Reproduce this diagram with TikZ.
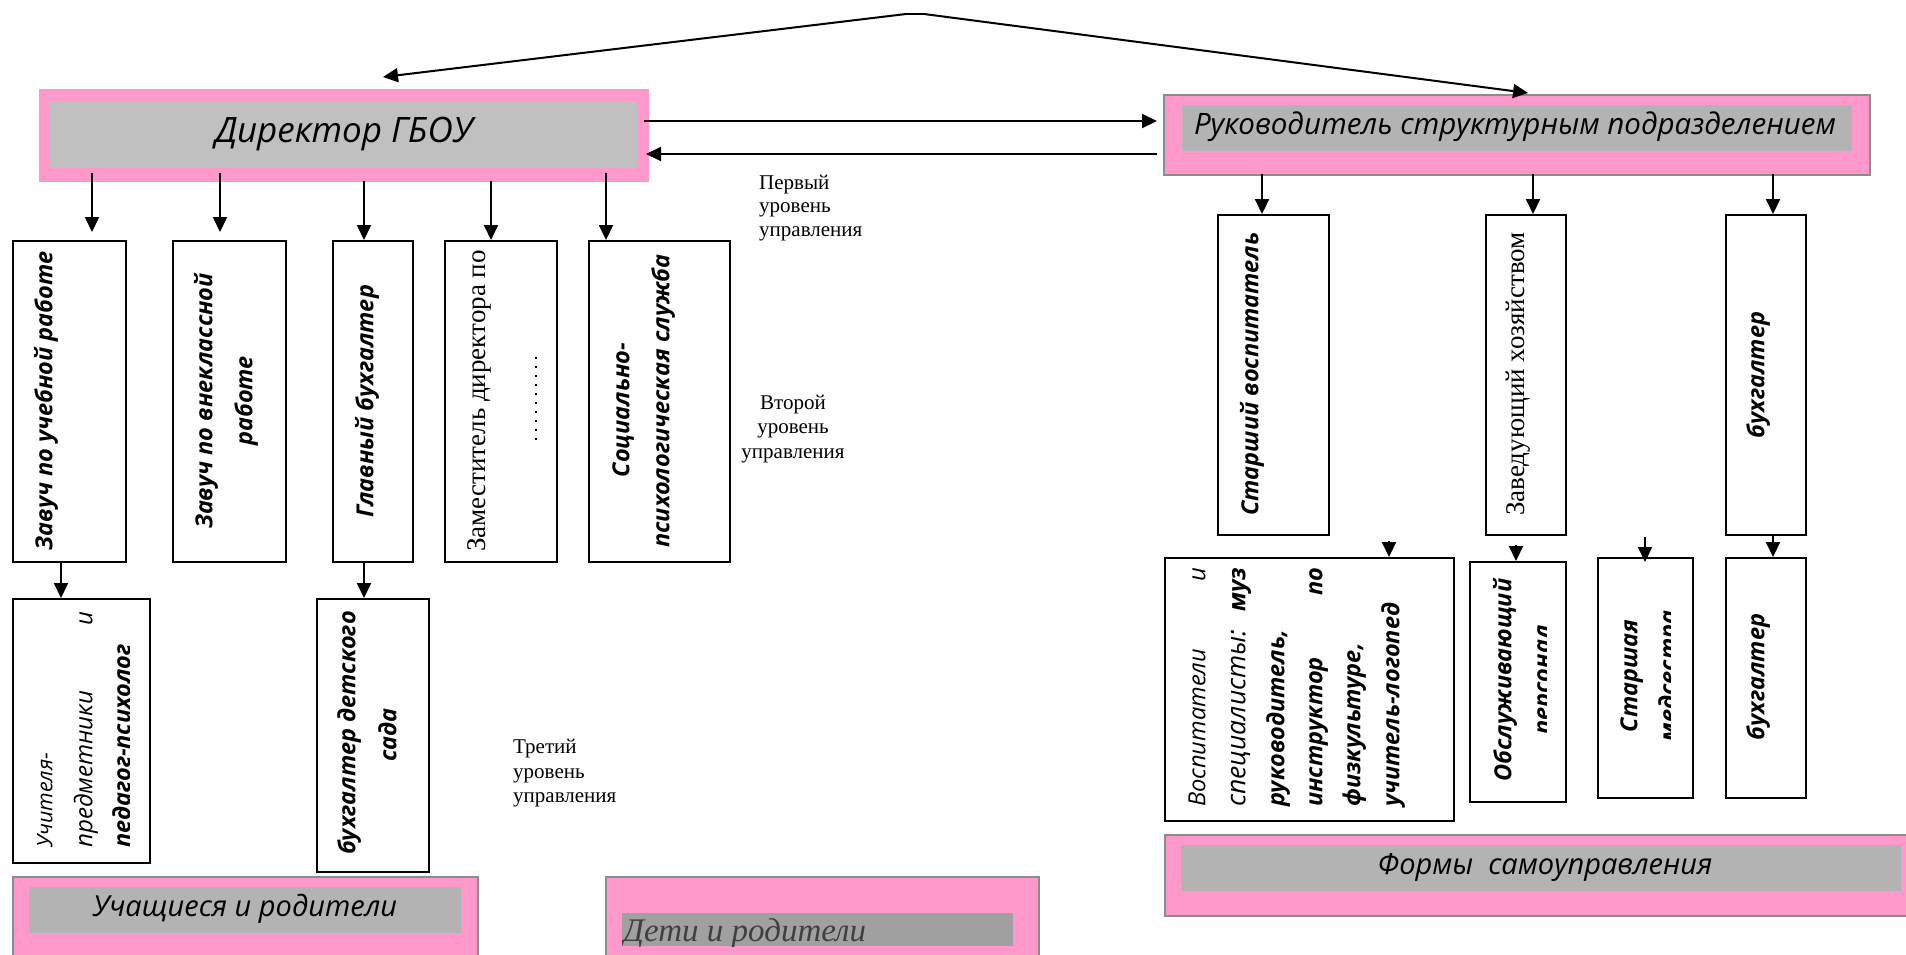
\documentclass[tikz,border=0pt]{standalone}
\usepackage{fontspec}
\setmainfont{Liberation Serif}
\newfontfamily\osans{Open Sans}
\usetikzlibrary{arrows.meta}
\definecolor{pinkw}{HTML}{FF99CC}
\definecolor{grayA}{HTML}{C0C0C0}
\definecolor{grayB}{HTML}{B3B3B3}
\definecolor{grayC}{HTML}{A0A0A0}
\definecolor{frameg}{HTML}{8C8C8C}
\definecolor{dtext}{HTML}{404040}
\newcommand\tBI{\osans\bfseries\itshape\fontsize{23.5}{27}\selectfont}
\newcommand\tI{\osans\itshape\fontsize{24}{28}\selectfont}
\newcommand\tS{\fontsize{27}{31}\selectfont}
\newcommand\tL{\fontsize{21}{25}\selectfont}
\begin{document}
\begin{tikzpicture}[x=1pt,y=-1pt,
  box/.style={draw=black, line width=2pt, inner sep=0pt, anchor=north west},
  pinkbox/.style={draw=frameg, line width=1.5pt, fill=pinkw, inner sep=0pt, anchor=north west},
  graybar/.style={fill=#1, inner sep=0pt, anchor=north west},
  arr/.style={line width=2pt, -{Triangle[length=15pt,width=14pt]}},
  vt/.style={rotate=90, inner sep=0pt, anchor=mid},
  vtl/.style={rotate=90, inner sep=0pt, anchor=mid west},
  lvl/.style={inner sep=0pt, font=\tL},
  htext/.style={inner sep=0pt, font=\osans\itshape\fontsize{#1}{#1}\selectfont},
]
\useasboundingbox (0,0) rectangle (1906,954);
\fill[white] (0,0) rectangle (1906,954);

% ---------- top level boxes ----------
\node[pinkbox, draw=none, minimum width=610pt, minimum height=93pt] (dirO) at (38,88) {};
\node[graybar=grayA, minimum width=587pt, minimum height=67pt] (dirI) at (50,101) {};
\node[htext=35] (dirT) at (344,134) {Директор ГБОУ};

\node[pinkbox, minimum width=706pt, minimum height=80pt] (rukO) at (1163,94) {};
\node[graybar=grayB, minimum width=670pt, minimum height=46pt] (rukI) at (1182,105) {};
\node[htext=29.5] (rukT) at (1515,127) {Руководитель структурным подразделением};

% ---------- apex arrows ----------
\coordinate (apL) at (906,14);
\coordinate (apR) at (924,14);
\coordinate (apLt) at (383,77);
\coordinate (apRt) at (1528,93);
\draw[line width=2pt] (apL) -- (apR);
\draw[arr] (apL) -- (apLt);
\draw[arr] (apR) -- (apRt);

% ---------- horizontal arrows ----------
\coordinate (h1a) at (644,121);
\coordinate (h1b) at (1157,121);
\coordinate (h2a) at (1157,154);
\coordinate (h2b) at (646,154);
\draw[arr] (h1a) -- (h1b);
\draw[arr] (h2a) -- (h2b);

% ---------- second level (left) ----------
\node[box, minimum width=113pt, minimum height=321pt] (B1) at (12,240) {};
\node[box, minimum width=113pt, minimum height=321pt] (B2) at (172,240) {};
\node[box, minimum width=80pt,  minimum height=321pt] (B3) at (332,240) {};
\node[box, minimum width=112pt, minimum height=321pt] (B4) at (444,240) {};
\node[box, minimum width=141pt, minimum height=321pt] (B5) at (588,240) {};

\node[vt, font=\tBI] (t1) at (50,401) {Завуч по учебной работе};
\node[vt, font=\tBI] (t2a) at (210,401) {Завуч по внеклассной};
\node[vt, font=\tBI] (t2b) at (250,401) {работе};
\node[vt, font=\tBI] (t3) at (371,401) {Главный бухгалтер};
\node[vt, font=\tS] (t4) at (483,401) {Заместитель директора по};
\coordinate (d4a) at (536,357);
\coordinate (d4b) at (536,440);
\draw[line width=2pt, dash pattern=on 2pt off 7pt] (d4a) -- (d4b);
\node[vt, font=\tBI] (t5a) at (627,410) {Социально-};
\node[vt, font=\tBI] (t5b) at (667,401) {психологическая служба};

% arrows from director
\coordinate (a1) at (92,173);  \coordinate (a1e) at (92,232);
\coordinate (a2) at (220,173); \coordinate (a2e) at (220,232);
\coordinate (a3) at (364,181); \coordinate (a4) at (491,181); \coordinate (a5) at (606,173);
\draw[arr] (a1) -- (a1e);
\draw[arr] (a2) -- (a2e);
\draw[arr] (a3) -- (a3 |- B3.north);
\draw[arr] (a4) -- (a4 |- B4.north);
\draw[arr] (a5) -- (a5 |- B5.north);

% ---------- third level (left) ----------
\node[box, minimum width=137pt, minimum height=264pt] (T1) at (12,598) {};
\node[box, minimum width=112pt, minimum height=273pt] (T2) at (316,598) {};
\coordinate (b1) at (61,563);
\coordinate (b3) at (364,563);
\draw[arr] (b1) -- (b1 |- T1.north);
\draw[arr] (b3) -- (b3 |- T2.north);

\node[vtl, font=\tI] (u1) at (50,848) {\resizebox{95pt}{!}{Учителя-}};
\node[vtl, font=\tI] (u2) at (90,848) {\makebox[236pt][l]{\resizebox{157pt}{!}{предметники}\hfill и}};
\begin{scope}
  \clip (12,598) rectangle (129.5,862);
  \node[vtl, font=\tBI] (u3) at (128,848) {педагог-психолог};
\end{scope}
\node[vt, font=\tBI] (bd1) at (353,733) {бухгалтер детского};
\node[vt, font=\tBI] (bd2) at (394,735) {сада};

% ---------- level labels ----------
\node[lvl, anchor=base west] (p1) at (759,189) {Первый};
\node[lvl, anchor=base west] (p2) at (759,212) {уровень};
\node[lvl, anchor=base west] (p3) at (759,236) {управления};
\node[lvl, anchor=base] (v1) at (793,409) {Второй};
\node[lvl, anchor=base] (v2) at (793,433) {уровень};
\node[lvl, anchor=base] (v3) at (793,458) {управления};
\node[lvl, anchor=base west] (r1) at (513,753) {Третий};
\node[lvl, anchor=base west] (r2) at (513,778) {уровень};
\node[lvl, anchor=base west] (r3) at (513,802) {управления};

% ---------- bottom left ----------
\node[pinkbox, minimum width=465pt, minimum height=100pt] (uchO) at (12,876) {};
\node[graybar=grayB, minimum width=432pt, minimum height=46pt] (uchI) at (29,887) {};
\node[htext=29] (uchT) at (245,909) {Учащиеся и родители};

\node[pinkbox, minimum width=433pt, minimum height=100pt] (detO) at (605,876) {};
\node[graybar=grayC, minimum width=391pt, minimum height=33pt] (detI) at (622,913) {};
\begin{scope}
  \clip (622,913) rectangle (1013,946);
  \node[inner sep=0pt, anchor=base west, text=dtext, font=\itshape\fontsize{33}{33}\selectfont] (detT) at (623,941) {Дети и родители};
\end{scope}

% ---------- right side second level ----------
\node[box, minimum width=111pt, minimum height=320pt] (R1) at (1217,214) {};
\node[box, minimum width=80pt,  minimum height=320pt] (R2) at (1485,214) {};
\node[box, minimum width=80pt,  minimum height=320pt] (R3) at (1725,214) {};
\coordinate (c1) at (1262,174); \coordinate (c2) at (1533,174); \coordinate (c3) at (1773,174);
\draw[arr] (c1) -- (c1 |- R1.north);
\draw[arr] (c2) -- (c2 |- R2.north);
\draw[arr] (c3) -- (c3 |- R3.north);
\node[vt, font=\tBI] (s1) at (1256,374) {Старший воспитатель};
\node[vt, font=\tS] (s2) at (1522,374) {Заведующий хозяйством};
\node[vt, font=\tBI] (s3) at (1762,375) {бухгалтер};

% ---------- right side third level ----------
\node[box, minimum width=289pt, minimum height=263pt] (V) at (1164,557) {};
\node[box, minimum width=96pt,  minimum height=240pt] (O) at (1469,561) {};
\node[box, minimum width=95pt,  minimum height=240pt] (S) at (1597,557) {};
\node[box, minimum width=80pt,  minimum height=240pt] (BB) at (1725,557) {};
\coordinate (e1) at (1389,541);
\coordinate (e2) at (1516,545);
\coordinate (e3) at (1645,537); \coordinate (e3e) at (1645,562);
\coordinate (e4) at (1773,534);
\draw[arr] (e1) -- (e1 |- V.north);
\draw[arr] (e2) -- (e2 |- O.north);
\draw[arr] (e3) -- (e3e);
\draw[arr] (e4) -- (e4 |- BB.north);

\node[vtl, font=\tI] (w1) at (1203,807) {\makebox[239pt][l]{\resizebox{158pt}{!}{Воспитатели}\hfill и}};
\node[vtl, font=\tI] (w2) at (1243,807) {\makebox[239pt][l]{\resizebox{177pt}{!}{специалисты:}\hfill {\bfseries муз}}};
\node[vtl, font=\tBI] (w3) at (1282,807) {руководитель,};
\node[vtl, font=\tBI] (w4) at (1320,807) {\makebox[239pt][l]{инструктор\hfill по}};
\node[vtl, font=\tBI] (w5) at (1358,807) {физкультуре,};
\node[vtl, font=\tBI] (w6) at (1397,807) {учитель-логопед};

\node[vt, font=\tBI] (o1) at (1509,680) {Обслуживающий};
\begin{scope}
  \clip (1469,561) rectangle (1546,801);
  \node[vt, font=\tBI] (o2) at (1548,680) {персонал};
\end{scope}
\node[vt, font=\tBI] (m1) at (1635,676) {Старшая};
\begin{scope}
  \clip (1597,557) rectangle (1670,797);
  \node[vt, font=\tBI] (m2) at (1674,676) {медсестра};
\end{scope}
\node[vt, font=\tBI] (bb1) at (1762,677) {бухгалтер};

% ---------- bottom right ----------
\node[pinkbox, minimum width=760pt, minimum height=81pt] (fO) at (1164,834) {};
\node[graybar=grayB, minimum width=720pt, minimum height=46pt] (fI) at (1181,845) {};
\node[htext=29] (fT) at (1545,867) {Формы\ \ самоуправления};
\end{tikzpicture}
\end{document}
